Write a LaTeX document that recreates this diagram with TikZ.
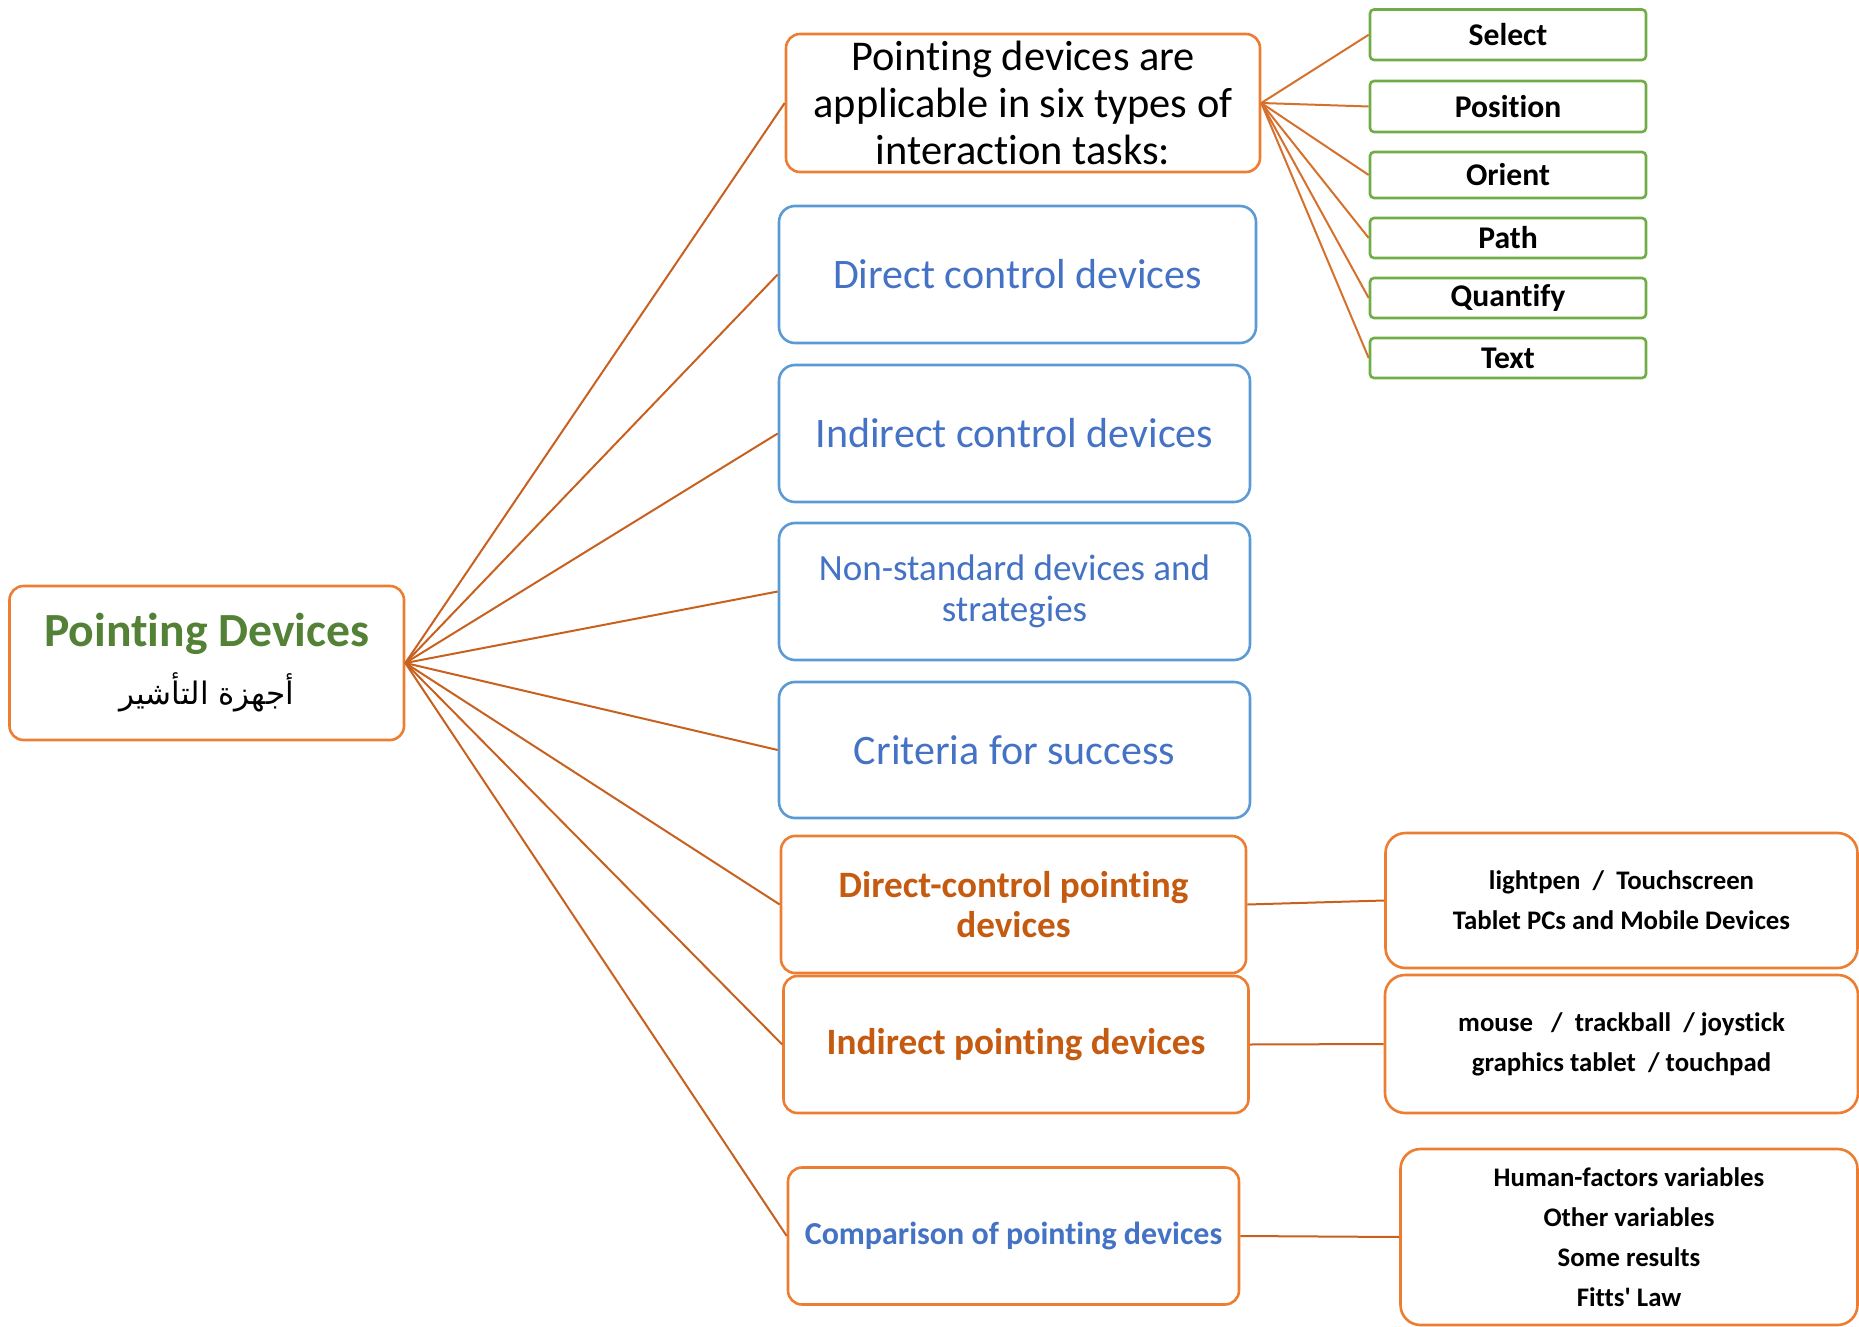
\documentclass[tikz,border=0pt]{standalone}
\usepackage{fontspec}
\setmainfont{Carlito}[Ligatures=TeXOff, RawFeature={-liga;-clig;-calt;-dlig}]
\newfontfamily\arabicfont[Script=Arabic]{DejaVu Sans}
\TeXXeTstate=1
\definecolor{boxorange}{HTML}{ED7D31}
\definecolor{linkorange}{HTML}{C8611F}
\definecolor{textorange}{HTML}{C55A11}
\definecolor{boxblue}{HTML}{5B9BD5}
\definecolor{textblue}{HTML}{4472C4}
\definecolor{boxgreen}{HTML}{70AD47}
\definecolor{titlegreen}{HTML}{538135}
\begin{document}
\begin{tikzpicture}[x=0.5pt,y=-0.5pt,
  box/.style={draw, line width=1.3pt, inner sep=0pt, align=center, fill=white, rounded corners=7pt},
  orangebox/.style={box, draw=boxorange},
  bluebox/.style={box, draw=boxblue, rounded corners=8pt, text=textblue},
  greenbox/.style={box, draw=boxgreen, rounded corners=2pt, minimum width=138pt,
    font=\bfseries\fontsize{15.8}{19}\selectfont},
  listbox/.style={orangebox, rounded corners=10pt, font=\bfseries\fontsize{13.4}{20}\selectfont},
  rootlink/.style={draw=linkorange, line width=1pt},
  tasklink/.style={draw=boxorange!90!black, line width=1pt}]
\useasboundingbox (0,0) rectangle (1859,1327);

% central topic
\node[orangebox, minimum width=197.25pt, minimum height=77pt] (root) at (206.75,663)
  {\textcolor{titlegreen}{\bfseries\fontsize{23.8}{29}\selectfont Pointing Devices}\\[8pt]
   {\arabicfont\fontsize{15.5}{29}\selectfont\beginR أجهزة التأشير\endR}};

% interaction tasks
\node[orangebox, minimum width=237pt, minimum height=69pt,
  font=\fontsize{21.2}{23.5}\selectfont] (task) at (1023,103)
  {Pointing devices are\\applicable in six types of\\interaction tasks:};

\node[greenbox, minimum height=25.25pt] (select) at (1508,34.75) {Select};
\node[greenbox, minimum height=25.5pt] (position) at (1508,106.5) {Position};
\node[greenbox, minimum height=23pt] (orient) at (1508,175) {Orient};
\node[greenbox, minimum height=20pt] (path) at (1508,238) {Path};
\node[greenbox, minimum height=20pt] (quantify) at (1508,298) {Quantify};
\node[greenbox, minimum height=20pt] (text) at (1508,358) {Text};

% device families
\node[bluebox, minimum width=238.5pt, minimum height=68.5pt,
  font=\fontsize{21}{25}\selectfont] (dcd) at (1017.5,274.5) {Direct control devices};
\node[bluebox, minimum width=235.5pt, minimum height=68.5pt,
  font=\fontsize{21}{25}\selectfont] (icd) at (1014.5,433.5) {Indirect control devices};
\node[bluebox, minimum width=235.5pt, minimum height=68.5pt,
  font=\fontsize{18.5}{20.75}\selectfont] (nsd) at (1014.5,591.5) {Non-standard devices and\\strategies};
\node[bluebox, minimum width=235.5pt, minimum height=68pt,
  font=\fontsize{21}{25}\selectfont] (crit) at (1014.5,750) {Criteria for success};

\node[orangebox, minimum width=232.5pt, minimum height=68.5pt, text=textorange,
  font=\bfseries\fontsize{18.6}{20}\selectfont] (dcp) at (1013.5,904.5) {Direct-control pointing\\devices};
\node[orangebox, minimum width=232.5pt, minimum height=68.5pt, text=textorange,
  font=\bfseries\fontsize{18.6}{20}\selectfont] (ipd) at (1016,1044.5) {Indirect pointing devices};
\node[orangebox, minimum width=225.5pt, minimum height=68.5pt, text=textblue,
  font=\bfseries\fontsize{16}{20}\selectfont] (cmp) at (1013.5,1236) {Comparison of pointing devices};

% examples
\node[listbox, minimum width=236pt, minimum height=67.5pt] (lp) at (1621.5,900.5)
  {lightpen\ \ /\ \ Touchscreen\\Tablet PCs and Mobile Devices};
\node[listbox, minimum width=236.5pt, minimum height=69pt] (ms) at (1621.5,1044)
  {mouse\ \ \ /\ \ trackball\ \ / joystick\\graphics tablet\ \ / touchpad};
\node[listbox, minimum width=228.5pt, minimum height=88pt] (hf) at (1629,1237)
  {Human-factors variables\\Other variables\\Some results\\Fitts' Law};

% connectors
\foreach \n in {task,dcd,icd,nsd,crit,dcp,ipd,cmp}
  \draw[rootlink] (root.east) -- (\n.west);
\foreach \n in {select,position,orient,path,quantify,text}
  \draw[tasklink] (task.east) -- (\n.west);
\draw[rootlink] (dcp.east) -- (lp.west);
\draw[rootlink] (ipd.east) -- (ms.west);
\draw[rootlink] (cmp.east) -- (hf.west);
\end{tikzpicture}
\end{document}
